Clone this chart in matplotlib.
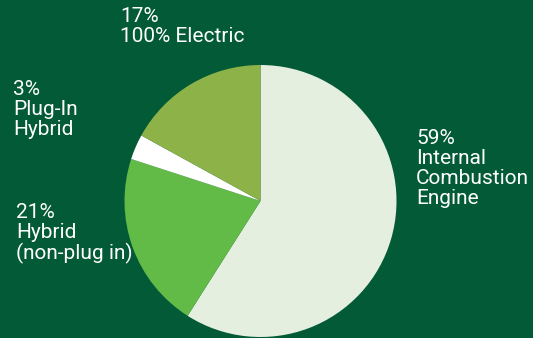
import matplotlib
matplotlib.use("Agg")
import matplotlib.pyplot as plt

plt.rcParams['font.family'] = ['Roboto', 'DejaVu Sans']

# data, going clockwise from 12 o'clock
labels = ['Internal\nCombustion\nEngine', 'Hybrid\n(non-plug in)', 'Plug-In\nHybrid', '100% Electric']
shares = [59, 21, 3, 17]
colors = ['#e4efe0', '#62bb46', '#ffffff', '#8db348']
bg = '#025a36'

W, H = 533, 338
fig = plt.figure(figsize=(W / 100, H / 100), dpi=100)
fig.patch.set_facecolor(bg)

# pie centre and radius in pixels
cx, cy, r = 260.5, 201, 136
ax = fig.add_axes([(cx - r) / W, (H - cy - r) / H, 2 * r / W, 2 * r / H])
ax.pie(shares, colors=colors, startangle=90, counterclock=False,
       wedgeprops=dict(linewidth=0), radius=1)
ax.set_xlim(-1, 1)
ax.set_ylim(-1, 1)
ax.set_aspect('equal')
for p in ax.patches:
    p.set_clip_on(False)
ax.axis('off')

# label spots (left, top) in pixels
spots = [(416, 129), (16, 203), (13, 80), (120, 7)]
for lab, s, (x, y) in zip(labels, shares, spots):
    fig.text(x / W, 1 - y / H, f'{s}%\n{lab}', color='white', fontsize=15,
             ha='left', va='top', linespacing=1.07)

fig.savefig('out.png', dpi=100, facecolor=bg)
